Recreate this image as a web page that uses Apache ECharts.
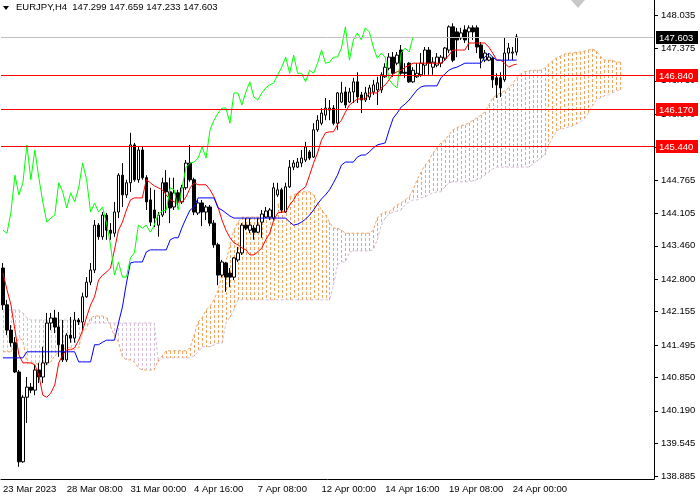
<!DOCTYPE html>
<html>
<head>
<meta charset="utf-8">
<title>EURJPY,H4</title>
<script src="https://cdn.jsdelivr.net/npm/echarts/dist/echarts.min.js"></script>
<style>
  html, body { margin: 0; padding: 0; background: #fff; }
  #main { width: 700px; height: 500px; }
</style>
</head>
<body>
<div id="main"></div>
<script>
// EURJPY H4, 23 Mar 16:00 -> 24 Apr 04:00 (130 bars)

const symbolName = 'EURJPY,H4';

const opens = [
  143.02, 142.29, 141.79, 141.54, 140.96, 139.18, 140.46, 140.66, 140.60, 141.00,
  140.86, 141.14, 141.93, 142.03, 141.85, 141.50, 141.20, 141.69, 141.63, 141.99,
  141.95, 142.45, 142.74, 142.98, 143.87, 143.64, 144.07, 143.77, 143.71, 144.13,
  144.86, 144.47, 144.71, 145.46, 144.77, 145.36, 144.81, 144.37, 144.17, 143.87,
  144.07, 144.71, 144.53, 144.23, 144.51, 144.33, 144.61, 145.10, 144.77, 144.11,
  144.31, 144.13, 144.23, 143.91, 143.48, 142.88, 143.12, 142.92, 142.84, 143.18,
  143.32, 143.87, 143.77, 143.81, 143.73, 143.93, 144.03, 144.03, 144.01, 144.47,
  144.57, 144.13, 144.63, 145.02, 145.02, 145.10, 145.16, 145.32, 145.22, 145.76,
  145.89, 146.05, 146.15, 146.19, 145.89, 146.31, 146.51, 146.31, 146.51, 146.71,
  146.45, 146.35, 146.41, 146.51, 146.55, 146.55, 146.81, 146.98, 147.20, 147.08,
  147.34, 146.90, 147.08, 146.71, 146.81, 146.85, 147.04, 147.34, 147.00, 147.04,
  147.08, 147.18, 147.34, 147.80, 147.70, 147.58, 147.74, 147.70, 147.78, 147.78,
  147.44, 147.14, 147.14, 147.18, 146.79, 146.79, 146.75, 147.28, 147.28, 147.299
];
const highs = [
  143.12, 142.39, 141.89, 141.65, 141.00, 140.50, 140.86, 140.74, 141.10, 141.14,
  141.46, 142.13, 142.13, 142.19, 142.15, 141.99, 141.73, 142.05, 142.15, 142.03,
  142.53, 142.84, 143.12, 143.97, 143.91, 144.13, 144.11, 143.91, 144.33, 144.90,
  145.10, 144.77, 145.70, 145.50, 145.42, 145.42, 144.86, 144.61, 144.57, 144.13,
  144.81, 144.96, 144.81, 144.81, 144.57, 144.67, 145.16, 145.46, 144.81, 144.37,
  144.37, 144.27, 144.27, 143.97, 143.52, 143.18, 143.14, 143.02, 143.24, 143.44,
  143.91, 144.01, 144.01, 143.87, 144.01, 144.17, 144.23, 144.21, 144.71, 144.71,
  144.61, 144.71, 145.16, 145.16, 145.20, 145.36, 145.52, 145.36, 145.89, 146.05,
  146.19, 146.39, 146.35, 146.25, 146.51, 146.71, 146.61, 146.59, 146.79, 146.90,
  146.51, 146.61, 146.65, 146.75, 146.81, 146.90, 147.08, 147.28, 147.30, 147.30,
  147.44, 147.08, 147.10, 147.00, 147.08, 147.28, 147.40, 147.40, 147.20, 147.28,
  147.24, 147.40, 147.83, 147.87, 147.78, 147.78, 147.83, 147.83, 147.83, 147.83,
  147.50, 147.34, 147.28, 147.20, 146.88, 146.90, 147.58, 147.48, 147.40, 147.659
];
const lows = [
  142.19, 141.69, 141.46, 140.94, 139.08, 139.16, 139.95, 140.54, 140.50, 140.74,
  140.74, 141.10, 141.79, 141.73, 141.26, 141.16, 141.16, 141.54, 141.54, 141.89,
  141.79, 142.43, 142.68, 142.92, 143.58, 143.58, 143.58, 143.58, 143.64, 144.01,
  144.23, 144.41, 144.53, 144.73, 144.71, 144.77, 144.17, 143.85, 143.83, 143.64,
  144.03, 144.11, 143.91, 144.17, 144.21, 144.29, 144.57, 144.73, 144.07, 144.07,
  143.85, 143.97, 143.85, 143.42, 142.68, 142.84, 142.55, 142.64, 142.78, 143.14,
  143.28, 143.77, 143.71, 143.58, 143.71, 143.62, 144.01, 143.97, 143.97, 144.43,
  144.11, 144.11, 144.61, 144.96, 145.00, 145.02, 145.12, 145.16, 145.20, 145.72,
  145.85, 145.95, 145.95, 145.85, 145.76, 146.29, 146.19, 146.29, 146.29, 146.29,
  146.09, 146.31, 146.35, 146.45, 146.25, 146.49, 146.79, 146.94, 146.81, 147.04,
  146.85, 146.79, 146.69, 146.69, 146.79, 146.81, 146.85, 146.85, 146.85, 147.00,
  147.00, 147.14, 147.28, 147.10, 147.20, 147.54, 147.48, 147.34, 147.54, 147.28,
  146.98, 147.10, 147.12, 146.59, 146.39, 146.41, 146.71, 147.14, 147.14, 147.233
];
const closes = [
  142.29, 141.79, 141.54, 140.96, 139.18, 140.46, 140.66, 140.60, 141.00, 140.86,
  141.14, 141.93, 142.03, 141.85, 141.50, 141.20, 141.69, 141.63, 141.99, 141.95,
  142.45, 142.74, 142.98, 143.87, 143.64, 144.07, 143.77, 143.71, 144.13, 144.86,
  144.47, 144.71, 145.46, 144.77, 145.36, 144.81, 144.33, 143.93, 144.01, 144.07,
  144.71, 144.53, 144.21, 144.51, 144.33, 144.61, 145.10, 144.77, 144.13, 144.31,
  144.13, 144.23, 143.91, 143.48, 142.88, 143.14, 142.84, 142.84, 143.22, 143.32,
  143.87, 143.81, 143.87, 143.73, 143.87, 144.09, 144.15, 144.17, 144.61, 144.57,
  144.17, 144.63, 145.02, 145.10, 145.12, 145.20, 145.42, 145.20, 145.76, 145.95,
  146.09, 146.19, 146.19, 145.89, 146.49, 146.49, 146.25, 146.51, 146.71, 146.41,
  146.35, 146.49, 146.59, 146.65, 146.69, 146.85, 147.00, 147.20, 146.88, 147.24,
  146.88, 146.88, 146.71, 146.94, 146.88, 147.08, 147.34, 147.08, 147.10, 147.20,
  147.20, 147.38, 147.80, 147.14, 147.54, 147.68, 147.54, 147.78, 147.70, 147.40,
  147.18, 147.28, 147.20, 146.75, 146.65, 146.59, 147.28, 147.38, 147.30, 147.603
];

// Ichimoku lines as drawn
const tenkan = [
  142.92, 142.59, 142.29, 141.79, 141.30, 141.14, 141.14, 141.14, 141.10, 140.90,
  140.50, 140.46, 140.54, 140.70, 141.14, 141.30, 141.40, 141.40, 141.44, 141.59,
  141.79, 142.05, 142.29, 142.45, 142.78, 142.88, 142.94, 143.02, 143.38, 143.77,
  143.93, 144.17, 144.37, 144.41, 144.41, 144.41, 144.77, 144.71, 144.65, 144.61,
  144.57, 144.47, 144.37, 144.33, 144.33, 144.33, 144.43, 144.61, 144.71, 144.67,
  144.67, 144.67, 144.57, 144.43, 144.23, 143.97, 143.77, 143.62, 143.52, 143.48,
  143.42, 143.38, 143.28, 143.28, 143.34, 143.42, 143.58, 143.71, 143.97, 144.11,
  144.13, 144.13, 144.27, 144.37, 144.51, 144.57, 144.63, 144.86, 145.10, 145.30,
  145.56, 145.70, 145.72, 145.72, 145.86, 145.95, 146.11, 146.25, 146.31, 146.37,
  146.37, 146.37, 146.49, 146.49, 146.49, 146.59, 146.65, 146.75, 146.87, 146.91,
  146.94, 147.00, 147.04, 147.08, 147.08, 147.08, 147.08, 147.08, 147.08, 147.08,
  147.08, 147.14, 147.24, 147.34, 147.34, 147.34, 147.34, 147.48, 147.48, 147.48,
  147.48, 147.48, 147.40, 147.28, 147.14, 147.14, 147.08, 147.00, 147.04, 147.06
];
const kijun = [
  141.24, 141.24, 141.24, 141.24, 141.24, 141.24, 141.36, 141.36, 141.36, 141.36,
  141.36, 141.36, 141.36, 141.36, 141.36, 141.36, 141.36, 141.36, 141.36, 141.16,
  141.16, 141.16, 141.16, 141.50, 141.50, 141.55, 141.59, 141.59, 141.59, 141.93,
  142.25, 142.72, 143.12, 143.14, 143.14, 143.14, 143.34, 143.38, 143.38, 143.38,
  143.38, 143.38, 143.58, 143.62, 143.62, 143.83, 144.01, 144.17, 144.23, 144.41,
  144.41, 144.41, 144.41, 144.41, 144.21, 144.17, 144.11, 144.05, 144.01, 144.01,
  144.01, 144.01, 144.01, 144.01, 144.01, 144.01, 144.01, 144.01, 144.01, 144.01,
  144.01, 144.01, 143.93, 143.87, 143.89, 143.93, 143.99, 144.07, 144.17, 144.29,
  144.39, 144.47, 144.57, 144.71, 144.86, 145.06, 145.12, 145.12, 145.12, 145.22,
  145.26, 145.26, 145.32, 145.40, 145.46, 145.48, 145.50, 145.76, 145.99, 146.09,
  146.21, 146.27, 146.35, 146.45, 146.55, 146.61, 146.63, 146.63, 146.63, 146.63,
  146.79, 146.87, 146.94, 146.98, 147.00, 147.04, 147.08, 147.08, 147.08, 147.08,
  147.08, 147.20, 147.28, 147.20, 147.14, 147.14, 147.14, 147.14, 147.14, 147.14
];
// lagging line, plotted 26 bars back
const chikou = [
  143.77, 143.71, 144.13, 144.86, 144.47, 144.71, 145.46, 144.77, 145.36, 144.81,
  144.33, 143.93, 144.01, 144.07, 144.71, 144.53, 144.21, 144.51, 144.33, 144.61,
  145.10, 144.77, 144.13, 144.31, 144.13, 144.23, 143.91, 143.48, 142.88, 143.14,
  142.84, 142.84, 143.22, 143.32, 143.87, 143.81, 143.87, 143.73, 143.87, 144.09,
  144.15, 144.17, 144.61, 144.57, 144.17, 144.63, 145.02, 145.10, 145.12, 145.20,
  145.42, 145.20, 145.76, 145.95, 146.09, 146.19, 146.19, 145.89, 146.49, 146.49,
  146.25, 146.51, 146.71, 146.41, 146.35, 146.49, 146.59, 146.65, 146.69, 146.85,
  147.00, 147.20, 146.88, 147.24, 146.88, 146.88, 146.71, 146.94, 146.88, 147.08,
  147.34, 147.08, 147.10, 147.20, 147.20, 147.38, 147.80, 147.14, 147.54, 147.68,
  147.54, 147.78, 147.70, 147.40, 147.18, 147.28, 147.20, 146.75, 146.65, 146.59,
  147.28, 147.38, 147.30, 147.603
];
// cloud, runs 26 bars ahead of the last candle
const spanA = [
  141.36, 141.36, 141.36, 141.50, 141.63, 141.59, 141.14, 141.14, 141.14, 141.10,
  141.10, 141.10, 141.16, 141.28, 141.36, 141.40, 141.44, 141.44, 141.40, 141.44,
  141.75, 141.83, 142.03, 142.07, 142.07, 142.07, 142.03, 141.87, 141.67, 141.55,
  141.26, 141.20, 141.20, 141.16, 141.04, 141.00, 141.00, 141.00, 141.00, 141.20,
  141.28, 141.38, 141.38, 141.38, 141.38, 141.38, 141.38, 141.44, 141.69, 141.95,
  142.03, 142.19, 142.27, 142.39, 142.58, 142.88, 143.14, 143.48, 143.77, 143.93,
  144.03, 144.03, 144.03, 144.03, 144.03, 144.03, 144.07, 144.13, 144.21, 144.27,
  144.37, 144.41, 144.43, 144.47, 144.51, 144.53, 144.53, 144.53, 144.47, 144.31,
  144.17, 144.07, 143.93, 143.81, 143.81, 143.77, 143.71, 143.71, 143.71, 143.71,
  143.71, 143.71, 143.71, 143.77, 144.01, 144.09, 144.13, 144.13, 144.21, 144.27,
  144.31, 144.37, 144.43, 144.57, 144.77, 144.92, 145.06, 145.16, 145.30, 145.40,
  145.50, 145.56, 145.66, 145.76, 145.80, 145.84, 145.86, 145.89, 145.95, 145.99,
  146.05, 146.11, 146.25, 146.39, 146.45, 146.49, 146.53, 146.59, 146.67, 146.79,
  146.87, 146.91, 146.92, 146.94, 146.94, 146.94, 146.98, 147.06, 147.12, 147.18,
  147.22, 147.26, 147.28, 147.28, 147.30, 147.30, 147.32, 147.34, 147.36, 147.32,
  147.22, 147.14, 147.14, 147.14, 147.10, 147.10
];
const spanB = [
  142.19, 142.19, 142.19, 142.19, 142.19, 142.13, 142.03, 141.99, 141.99, 141.99,
  141.99, 141.99, 141.99, 141.99, 141.99, 141.99, 141.99, 141.99, 141.99, 141.95,
  141.93, 141.93, 141.93, 141.93, 141.93, 141.93, 141.93, 141.93, 141.93, 141.93,
  141.93, 141.93, 141.93, 141.93, 141.93, 141.93, 141.93, 141.93, 141.93, 141.16,
  141.24, 141.24, 141.24, 141.24, 141.24, 141.24, 141.24, 141.24, 141.28, 141.36,
  141.46, 141.46, 141.46, 141.50, 141.53, 141.53, 141.93, 142.05, 142.19, 142.39,
  142.39, 142.39, 142.39, 142.39, 142.39, 142.39, 142.39, 142.39, 142.39, 142.39,
  142.39, 142.39, 142.39, 142.39, 142.39, 142.39, 142.39, 142.39, 142.39, 142.39,
  142.39, 142.39, 142.39, 142.68, 143.08, 143.14, 143.14, 143.34, 143.36, 143.36,
  143.36, 143.36, 143.36, 143.38, 143.58, 143.87, 144.01, 144.09, 144.13, 144.15,
  144.17, 144.27, 144.33, 144.37, 144.37, 144.41, 144.43, 144.47, 144.51, 144.53,
  144.53, 144.63, 144.71, 144.73, 144.73, 144.73, 144.73, 144.73, 144.75, 144.77,
  144.80, 144.86, 144.92, 144.98, 145.02, 145.02, 145.02, 145.02, 145.02, 145.02,
  145.02, 145.02, 145.02, 145.08, 145.14, 145.20, 145.26, 145.44, 145.60, 145.74,
  145.77, 145.79, 145.81, 145.83, 145.87, 145.91, 145.97, 146.09, 146.23, 146.35,
  146.39, 146.43, 146.45, 146.49, 146.53, 146.55
];

const levels = [146.840, 146.170, 145.440];
const lastPrice = 147.603;

const priceTicks = [
  138.885, 139.545, 140.190, 140.850, 141.495, 142.155, 142.800, 143.460,
  144.105, 144.765, 145.420, 146.070, 146.730, 147.375, 148.035
];
const timeTickIdx = [0, 16, 32, 48, 64, 80, 96, 112, 128];
const timeTickLabels = [
  '23 Mar 2023', '28 Mar 08:00', '31 Mar 00:00', '4 Apr 16:00', '7 Apr 08:00',
  '12 Apr 00:00', '14 Apr 16:00', '19 Apr 08:00', '24 Apr 00:00'
];

const SLOTS = 164; // bars that fit in the window
const FONT = '"Liberation Sans", Arial, sans-serif';
const BULL_CLOUD = '#F4A460';
const BEAR_CLOUD = '#D8BFD8';

const chart = echarts.init(document.getElementById('main'));

const slotNames = Array.from({ length: SLOTS }, (_, i) => String(i));
const tickLabelOf = {};
timeTickIdx.forEach((idx, k) => { tickLabelOf[idx] = timeTickLabels[k]; });
const isTimeTick = (i) => tickLabelOf[i] !== undefined;

const candleData = opens.map((o, i) => [o, closes[i], lows[i], highs[i]]);
const cloudData = spanA.map((a, i) => [i, a, spanB[i]]);
const levelData = levels.concat([lastPrice]).map((v, k) => [0, v]);

const last = opens.length - 1;
const headerText = symbolName + '  ' +
  [opens[last], highs[last], lows[last], closes[last]].map(v => v.toFixed(3)).join(' ');

// one dotted column per bar, like the terminal's hatch
function renderCloud(params, api) {
  const i = api.value(0);
  const a = api.value(1);
  const b = api.value(2);
  const pa = api.coord([i, a]);
  const pb = api.coord([i, b]);
  const x = Math.round(pa[0]);
  const top = Math.round(Math.min(pa[1], pb[1]));
  const bot = Math.round(Math.max(pa[1], pb[1]));
  const fill = a >= b ? BULL_CLOUD : BEAR_CLOUD;
  const children = [];
  for (let y = top; y < bot; y += 5) {
    children.push({
      type: 'rect',
      shape: { x: x, y: y, width: 1, height: Math.min(3, bot - y) },
      style: { fill: fill },
    });
  }
  return { type: 'group', children: children };
}

// horizontal lines with their price tag on the scale
function renderLevel(params, api) {
  const v = api.value(1);
  const isLast = params.dataIndex === levels.length;
  const cs = params.coordSys;
  const y = Math.round(api.coord([0, v])[1]) + 0.5;
  const right = cs.x + cs.width;
  return {
    type: 'group',
    children: [
      {
        type: 'line',
        shape: { x1: cs.x, y1: y, x2: right, y2: y },
        style: { stroke: isLast ? '#C0C0C0' : '#FF0000', lineWidth: 1 },
      },
      {
        type: 'rect',
        shape: { x: right + 2, y: Math.round(y) - 7, width: 42, height: 13 },
        style: { fill: isLast ? '#000000' : '#FF0000' },
      },
      {
        type: 'text',
        style: {
          text: v.toFixed(3),
          x: right + 5,
          y: Math.round(y),
          verticalAlign: 'middle',
          align: 'left',
          fill: '#ffffff',
          font: '9.5px ' + FONT,
        },
      },
    ],
  };
}

const option = {
  animation: false,
  backgroundColor: '#ffffff',
  grid: { left: -2, right: 46, top: 0, bottom: 21, containLabel: false },
  xAxis: {
    type: 'category',
    data: slotNames,
    boundaryGap: true,
    axisLine: { lineStyle: { color: '#000', width: 1 } },
    axisTick: {
      alignWithLabel: true,
      interval: (i) => isTimeTick(i),
      length: 4,
      lineStyle: { color: '#000' },
    },
    axisLabel: {
      interval: (i) => isTimeTick(i),
      formatter: (v, i) => tickLabelOf[i] || '',
      align: 'left',
      margin: 5,
      color: '#000',
      fontSize: 9.5,
      fontFamily: FONT,
      hideOverlap: false,
    },
    splitLine: { show: false },
  },
  yAxis: {
    type: 'value',
    position: 'right',
    min: 138.839,
    max: 148.332,
    scale: true,
    axisLine: { show: true, lineStyle: { color: '#000', width: 1 } },
    axisTick: {
      show: true,
      length: 4,
      customValues: priceTicks,
      lineStyle: { color: '#000' },
    },
    axisLabel: {
      customValues: priceTicks,
      formatter: (v) => v.toFixed(3),
      margin: 7,
      color: '#000',
      fontSize: 9.5,
      fontFamily: FONT,
    },
    splitLine: { show: false },
  },
  series: [
    {
      name: 'cloud',
      type: 'custom',
      z: 1,
      silent: true,
      data: cloudData,
      encode: { x: 0, y: [1, 2] },
      renderItem: renderCloud,
    },
    {
      name: 'Senkou A',
      type: 'line',
      z: 1,
      data: spanA,
      symbol: 'none',
      silent: true,
      lineStyle: { color: BULL_CLOUD, width: 1, type: [3, 2] },
    },
    {
      name: 'Senkou B',
      type: 'line',
      z: 1,
      data: spanB,
      symbol: 'none',
      silent: true,
      lineStyle: { color: BEAR_CLOUD, width: 1, type: [3, 2] },
    },
    {
      name: symbolName,
      type: 'candlestick',
      z: 2,
      data: candleData,
      barWidth: 3,
      itemStyle: {
        color: '#ffffff',
        color0: '#000000',
        borderColor: '#000000',
        borderColor0: '#000000',
        borderWidth: 1,
      },
    },
    {
      name: 'Tenkan',
      type: 'line',
      z: 3,
      data: tenkan,
      symbol: 'none',
      lineStyle: { color: '#FF0000', width: 1 },
    },
    {
      name: 'Kijun',
      type: 'line',
      z: 3,
      data: kijun,
      symbol: 'none',
      lineStyle: { color: '#0000FF', width: 1 },
    },
    {
      name: 'Chikou',
      type: 'line',
      z: 3,
      data: chikou,
      symbol: 'none',
      lineStyle: { color: '#00FF00', width: 1 },
    },
    {
      name: 'levels',
      type: 'custom',
      z: 5,
      silent: true,
      clip: false,
      data: levelData,
      encode: { x: 0, y: 1 },
      renderItem: renderLevel,
    },
  ],
  graphic: [
    {
      type: 'polygon',
      z: 10,
      shape: { points: [[3, 6], [9, 6], [6, 10]] },
      style: { fill: '#000' },
    },
    {
      type: 'text',
      z: 10,
      left: 16,
      top: 2,
      style: { text: headerText, font: '9.5px ' + FONT, fill: '#000' },
    },
    {
      type: 'polygon',
      z: 10,
      shape: { points: [[571, 0], [585, 0], [578, 8]] },
      style: { fill: '#C8C8C8' },
    },
  ],
};

chart.setOption(option);
</script>
</body>
</html>
